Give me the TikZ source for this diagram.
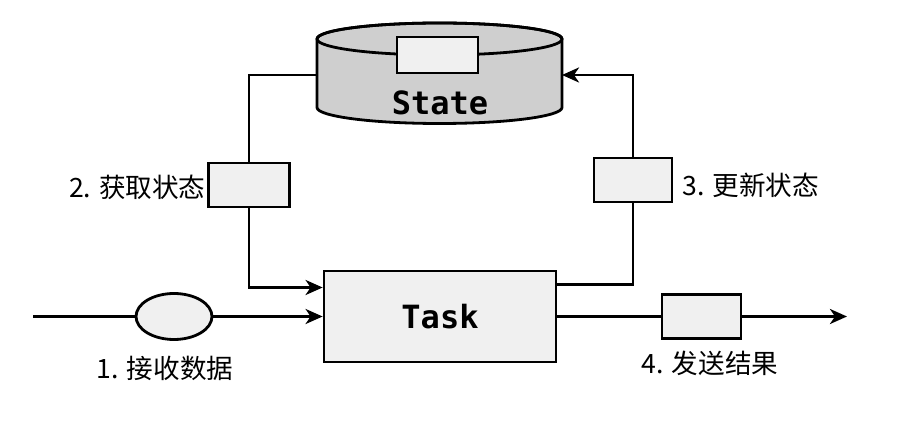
\documentclass[tikz,border=0pt]{standalone}
\usepackage{fontspec}
\usepackage{tikz}
\usetikzlibrary{shapes,arrows.meta,positioning}
\newfontfamily\cjk{Noto Sans CJK SC}
\newfontfamily\codefont{DejaVu Sans Mono}
\definecolor{boxfill}{HTML}{F0F0F0}
\definecolor{dbfill}{HTML}{CFCFCF}

\begin{document}
\begin{tikzpicture}[x=0.5pt,y=0.5pt]
			\tikzstyle{Line}	= [line width=1.4pt, black]
			\tikzstyle{Arrow}	= [Line, -{Stealth[length=8.5pt, width=7.5pt, inset=2.5pt]}]
			\tikzstyle{Msg}		= [rectangle, draw, line width=1.4pt, fill=boxfill, minimum width=40pt, minimum height=22pt, inner sep=0pt]
			\tikzstyle{Event}	= [ellipse, draw, line width=1.4pt, fill=boxfill, minimum width=38pt, minimum height=23pt, inner sep=0pt]
			\tikzstyle{Label}	= [font=\cjk\fontsize{13.3pt}{15pt}\selectfont, inner sep=0pt]
			\tikzstyle{Code}	= [font=\codefont\bfseries\fontsize{16pt}{18pt}\selectfont, inner sep=0pt]

			\useasboundingbox (0,0) rectangle (900,-422);

			% state store
			\path [Line, fill=dbfill, draw] (317,-39) -- (317,-107.5)
				arc [start angle=180, end angle=360, x radius=122.5, y radius=16]
				-- (562,-39) arc [start angle=0, end angle=180, x radius=122.5, y radius=16] -- cycle;
			\draw [Line] (439.5,-39) ellipse [x radius=122.5, y radius=16];
			\node (slot) at (437.5,-55) [Msg][minimum width=40.5pt, minimum height=18pt] {};
			\node (state) at (440,-103) [Code] {State};
			\coordinate (stateL) at (317,-75);
			\coordinate (stateR) at (562,-75);

			\node (task) at (440,-316.5) [rectangle, draw, line width=1.4pt, fill=boxfill, minimum width=116pt, minimum height=45.5pt][Code] {Task};
			\node (inmsg) at (174,-316.5) [Event] {};
			\node (outmsg) at (701.5,-316.5) [Msg][minimum width=39.5pt] {};
			\node (getmsg) at (249,-185) [Msg][minimum width=40.5pt] {};
			\node (putmsg) at (633,-180) [Msg][minimum width=39pt] {};
			\coordinate (src) at (33,-316.5);
			\coordinate (sink) at (847,-316.5);

			\node (l1) at (165,-368) [Label] {1. 接收数据};
			\node (l2) at (206,-187) [Label, anchor=east] {2. 获取状态};
			\node (l3) at (682,-185) [Label, anchor=west] {3. 更新状态};
			\node (l4) at (710,-363) [Label] {4. 发送结果};

			\draw [Line] (src) -- (inmsg);
			\draw [Arrow] (inmsg) -- (task);
			\draw [Line] (task) -- (outmsg);
			\draw [Arrow] (outmsg) -- (sink);
			\draw [Line] (stateL) -| (getmsg.north);
			\draw [Arrow] (getmsg.south) |- ([yshift=14.5pt]task.west);
			\draw [Line] ([yshift=16pt]task.east) -| (putmsg.south);
			\draw [Arrow] (putmsg.north) |- (stateR);
		\end{tikzpicture}
\end{document}
